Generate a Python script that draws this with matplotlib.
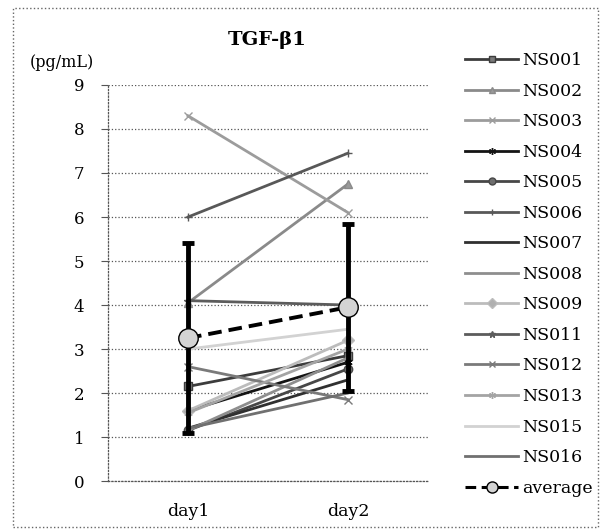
import matplotlib.pyplot as plt
from matplotlib.patches import Rectangle

# Données TGF-β1 (pg/mL) par sujet
jours = ['day1', 'day2']
sujets = ['NS001', 'NS002', 'NS003', 'NS004', 'NS005', 'NS006', 'NS007',
          'NS008', 'NS009', 'NS011', 'NS012', 'NS013', 'NS015', 'NS016']
day1 = [2.15, 4.05, 8.3, 1.6, 1.15, 6.0, 1.2, 1.15, 1.6, 4.1, 2.6, 1.55, 3.0, 1.2]
day2 = [2.85, 6.75, 6.1, 2.7, 2.55, 7.45, 2.3, 2.8, 3.2, 4.0, 1.85, 3.0, 3.45, 2.0]
moyenne = [3.25, 3.95]
ecart_type = [2.15, 1.9]
yticks = list(range(0, 10))

# Style de chaque sujet : couleur de ligne, marqueur, couleur du marqueur
styles = {
    'NS001': ('#3c3c3c', 's', '#7a7a7a'),
    'NS002': ('#8a8a8a', '^', '#9a9a9a'),
    'NS003': ('#9c9c9c', 'x', '#8a8a8a'),
    'NS004': ('#141414', (6, 2, 0), '#141414'),
    'NS005': ('#474747', 'o', '#6e6e6e'),
    'NS006': ('#585858', '+', '#585858'),
    'NS007': ('#303030', None, None),
    'NS008': ('#8e8e8e', None, None),
    'NS009': ('#bcbcbc', 'D', '#b0b0b0'),
    'NS011': ('#5c5c5c', '*', '#5c5c5c'),
    'NS012': ('#7a7a7a', 'x', '#6a6a6a'),
    'NS013': ('#a4a4a4', (6, 2, 0), '#9a9a9a'),
    'NS015': ('#d2d2d2', None, None),
    'NS016': ('#707070', None, None),
}

plt.rcParams['font.family'] = 'DejaVu Serif'

fig = plt.figure(figsize=(6.07, 5.31), dpi=100)
ax = fig.add_axes([0.178, 0.094, 0.527, 0.746])

x = [0, 1]
for i, nom in enumerate(sujets):
    couleur, marqueur, mcol = styles[nom]
    ax.plot(x, [day1[i], day2[i]], color=couleur, lw=2.0, marker=marqueur,
            markersize=6, markerfacecolor=mcol, markeredgecolor=couleur,
            markeredgewidth=1.0, label=nom, zorder=3)

# Moyenne avec écart-type
ax.errorbar(x, moyenne, yerr=ecart_type, fmt='none', ecolor='black',
            elinewidth=3.5, capsize=4, capthick=3.5, zorder=4)
ax.plot(x, moyenne, color='black', lw=2.8, ls=(0, (3.5, 1.8)), marker='o',
        markersize=14, markerfacecolor='#d4d4d4', markeredgecolor='black',
        markeredgewidth=1.0, label='average', zorder=5)

ax.set_xlim(-0.5, 1.5)
ax.set_ylim(0, 9)
ax.set_yticks(yticks)
ax.set_xticks(x)
ax.set_xticklabels(jours)
ax.tick_params(axis='y', length=5, width=0.8, color='#555555', pad=12, labelsize=12)
ax.tick_params(axis='x', length=0, pad=16, labelsize=12.5)
ax.grid(axis='y', color='#555555', ls=':', lw=0.9)
for cote in ['top', 'right']:
    ax.spines[cote].set_visible(False)
for cote in ['left', 'bottom']:
    ax.spines[cote].set_linestyle(':')
    ax.spines[cote].set_color('#555555')
    ax.spines[cote].set_linewidth(0.9)

fig.text(0.44, 0.925, 'TGF-β1', ha='center', va='center', fontsize=14, fontweight='bold')
fig.text(0.102, 0.883, '(pg/mL)', ha='center', va='center', fontsize=11.5)

leg = fig.legend(loc='upper left', bbox_to_anchor=(0.755, 0.915), frameon=False,
                 fontsize=12.5, handlelength=3.05, handletextpad=0.25, labelspacing=0.78,
                 borderaxespad=0)
# Marqueurs plus petits dans la légende
for h in leg.legend_handles:
    h.set_markersize(5)
leg.legend_handles[-1].set_markersize(8)
leg.legend_handles[-1].set_linewidth(2.2)

# Cadre pointillé autour de la figure
fig.patches.append(Rectangle((0.022, 0.008), 0.963, 0.977, transform=fig.transFigure,
                             fill=False, ls=':', lw=1.0, edgecolor='#666666'))

fig.savefig('out.png', dpi=100)
